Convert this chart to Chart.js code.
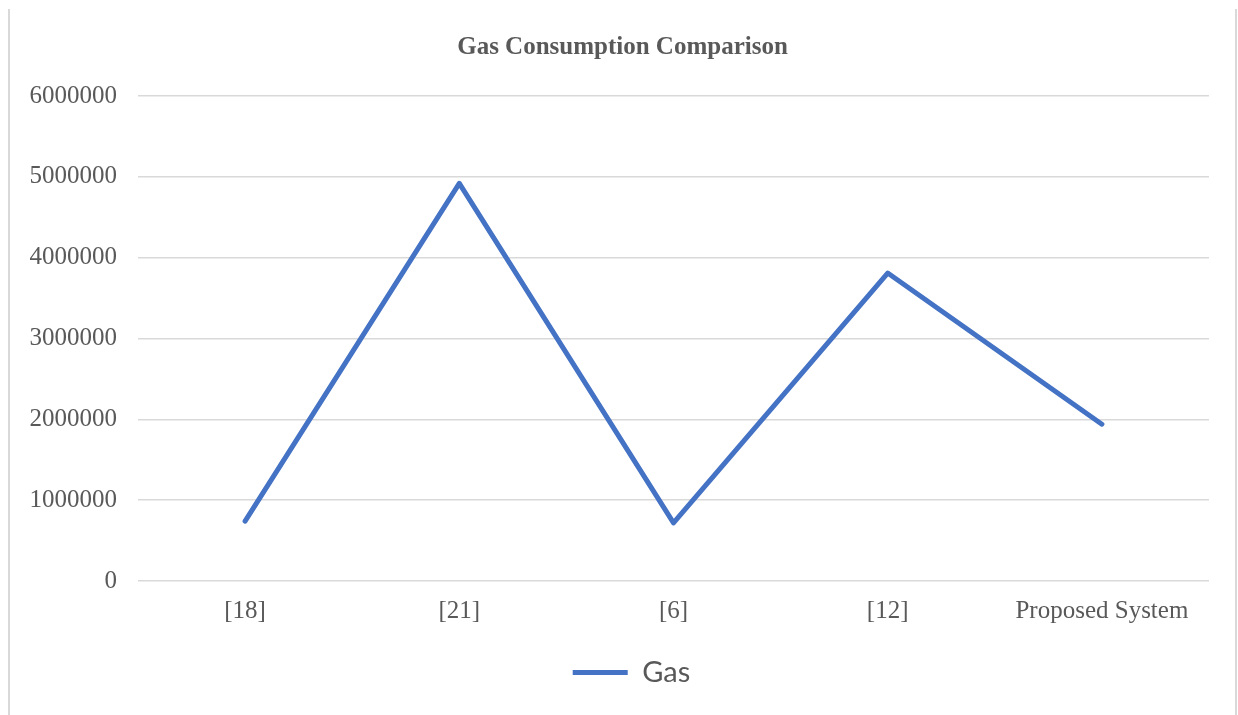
<!DOCTYPE html>
<html>
<head>
<meta charset="utf-8">
<script src="https://cdn.jsdelivr.net/npm/chart.js@4/dist/chart.umd.min.js"></script>
<style>
  html, body { margin: 0; padding: 0; background: #fff; }
  #wrap { position: relative; width: 1238px; height: 715px; }
</style>
</head>
<body>
<div id="wrap"><canvas id="gasChart"></canvas></div>
<script>
const categories = ['[18]', '[21]', '[6]', '[12]', 'Proposed System'];
const gasValues = [740000, 4920000, 720000, 3810000, 1940000];
const yTicks = [0, 1000000, 2000000, 3000000, 4000000, 5000000, 6000000];

const textGray = '#595959';
const gridGray = '#d9d9d9';
const lineBlue = '#4472c4';

// thin gray frame on left and right side, like the source image
const framePlugin = {
  id: 'frame',
  beforeDraw(chart) {
    const ctx = chart.ctx;
    ctx.save();
    ctx.strokeStyle = '#d9d9d9';
    ctx.lineWidth = 2;
    ctx.beginPath();
    ctx.moveTo(9, 9); ctx.lineTo(9, 715);
    ctx.moveTo(1236, 9); ctx.lineTo(1236, 715);
    ctx.stroke();
    ctx.restore();
  },
  // title and legend are centred on the whole canvas in the source, not on the padded box
  afterLayout(chart) {
    if (chart.titleBlock) {
      chart.titleBlock.left += 18;
      chart.titleBlock.right += 18;
    }
    if (chart.legend) {
      chart.legend.left += 27;
      chart.legend.right += 27;
    }
  }
};

new Chart(document.getElementById('gasChart'), {
  type: 'line',
  data: {
    labels: categories,
    datasets: [{
      label: 'Gas',
      data: gasValues,
      borderColor: lineBlue,
      backgroundColor: lineBlue,
      borderWidth: 5,
      borderCapStyle: 'round',
      borderJoinStyle: 'round',
      pointRadius: 0,
      tension: 0,
      fill: false
    }]
  },
  options: {
    responsive: true,
    maintainAspectRatio: false,
    animation: false,
    layout: { padding: { left: 0, right: 29, top: 0, bottom: 18 } },
    plugins: {
      title: {
        display: true,
        text: 'Gas Consumption Comparison',
        color: textGray,
        font: { family: '"Liberation Serif", "Times New Roman", serif', size: 25, weight: 'bold' },
        padding: { top: 33, bottom: 33 }
      },
      legend: {
        display: true,
        position: 'bottom',
        labels: {
          color: textGray,
          font: { family: 'Lato, "Open Sans", sans-serif', size: 29 },
          usePointStyle: true,
          pointStyle: 'line',
          pointStyleWidth: 55,
          padding: 17
        }
      },
      tooltip: { enabled: false }
    },
    scales: {
      x: {
        grid: { display: false, drawTicks: false },
        border: { display: false },
        offset: true,
        ticks: {
          color: textGray,
          font: { family: '"Liberation Serif", "Times New Roman", serif', size: 25 },
          padding: 15,
          maxRotation: 0
        }
      },
      y: {
        min: 0,
        max: 6000000,
        afterFit(scale) { scale.width = 138; },
        afterBuildTicks(scale) { scale.ticks = yTicks.map(v => ({ value: v })); },
        grid: { color: gridGray, lineWidth: 1.5, drawTicks: false },
        border: { display: false },
        ticks: {
          color: textGray,
          font: { family: '"Liberation Serif", "Times New Roman", serif', size: 25 },
          padding: 21,
          callback: v => String(v)
        }
      }
    }
  },
  plugins: [framePlugin]
});
</script>
</body>
</html>
